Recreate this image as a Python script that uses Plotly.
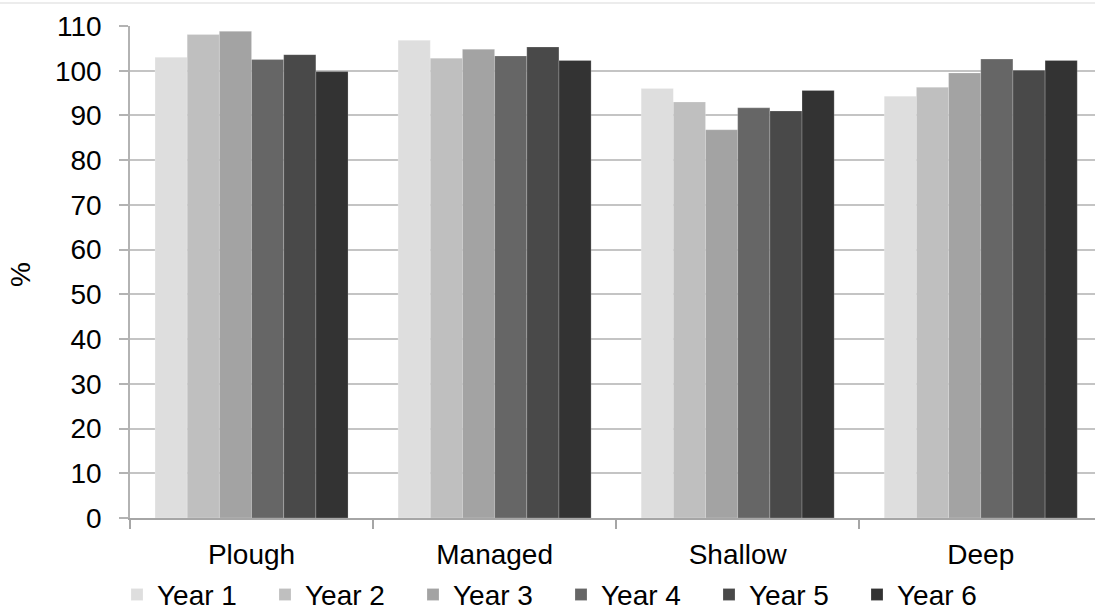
import plotly.graph_objects as go

categories = ["Plough", "Managed", "Shallow", "Deep"]
series_names = ["Year 1", "Year 2", "Year 3", "Year 4", "Year 5", "Year 6"]
year1 = [103.0, 106.8, 96.0, 94.3]
year2 = [108.1, 102.8, 93.0, 96.3]
year3 = [108.8, 104.8, 86.8, 99.5]
year4 = [102.5, 103.3, 91.7, 102.6]
year5 = [103.6, 105.3, 91.0, 100.1]
year6 = [99.8, 102.3, 95.6, 102.3]
series_values = [year1, year2, year3, year4, year5, year6]
colors = ["#dedede", "#bfbfbf", "#a3a3a3", "#666666", "#494949", "#333333"]
y_ticks = list(range(0, 111, 10))
y_title = "%"

FONT = "Liberation Sans, Arial, sans-serif"
FS = 28

fig = go.Figure()
for name, vals, col in zip(series_names, series_values, colors):
    fig.add_trace(go.Bar(
        x=categories, y=vals, name=name,
        marker=dict(color=col, line=dict(color="rgba(255,255,255,0.25)", width=0.8)),
    ))

W, H = 1095, 610
ml, mr, mt, mb = 130, 0, 26, 92
pw, ph = W - ml - mr, H - mt - mb

fig.update_layout(
    width=W, height=H,
    margin=dict(l=ml, r=mr, t=mt, b=mb, autoexpand=False),
    paper_bgcolor="white", plot_bgcolor="white",
    barmode="group", bargap=0.206, bargroupgap=0,
    font=dict(family=FONT, size=FS, color="#000000"),
    showlegend=True,
    legend=dict(
        orientation="h", xref="container", x=117 / W, xanchor="left",
        yref="container", y=0.025, yanchor="middle",
        font=dict(size=FS, family=FONT), entrywidth=103, entrywidthmode="pixels",
        itemclick=False, tracegroupgap=0, bgcolor="rgba(0,0,0,0)",
    ),
    xaxis=dict(
        type="category", range=[-0.5, 3.47], automargin=False,
        showline=True, linecolor="#a6a6a6", linewidth=1.5,
        ticks="outside", tickson="boundaries", ticklen=9, tickcolor="#a6a6a6", tickwidth=1.5,
        tickfont=dict(size=FS), showgrid=False, zeroline=False, ticklabelstandoff=11,
    ),
    yaxis=dict(
        range=[0, 110], tickvals=y_ticks, automargin=False,
        showline=True, linecolor="#b3b3b3", linewidth=1.5,
        ticks="outside", ticklen=9, tickcolor="#b3b3b3", tickwidth=1.5,
        showgrid=True, gridcolor="#c4c4c4", gridwidth=1.5, zeroline=False,
        tickfont=dict(size=FS), ticklabelstandoff=12,
    ),
    annotations=[dict(text=y_title, xref="paper", yref="paper",
                      x=(20 - ml) / pw, y=(H - mb - 275) / ph,
                      xanchor="center", yanchor="middle", textangle=-90,
                      showarrow=False, font=dict(size=FS))],
    shapes=[dict(type="line", xref="paper", yref="paper", x0=-ml / pw, x1=1,
                 y0=1 + (mt - 3) / ph, y1=1 + (mt - 3) / ph,
                 line=dict(color="#e6e6e6", width=1.5))],
)

fig.write_html("out.html", config={"displayModeBar": False},
               post_script="document.body.style.margin='0';document.body.style.padding='0';")
